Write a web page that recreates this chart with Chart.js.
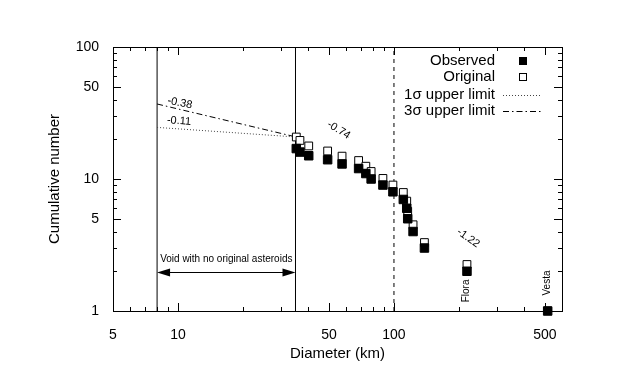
<!DOCTYPE html>
<html><head><meta charset="utf-8">
<script src="https://cdn.jsdelivr.net/npm/chart.js@4/dist/chart.umd.min.js"></script>
<style>html,body{margin:0;padding:0;background:#fff}</style>
</head><body>
<canvas id="c" width="634" height="379"></canvas>
<script>
// ---- data ----
const diameters      = [35.3, 36.7, 40.3, 49.3, 57.5, 68.6, 74.1, 78.4, 88.9, 98.9, 110.5, 114.6, 115.8, 122.6, 138.4, 217.8, 515];
const observedCounts = [17, 16, 15, 14, 13, 12, 11, 10, 9, 8, 7, 6, 5, 4, 3, 2, 1];
const originalCounts = [20.8, 19.6, 17.8, 16.3, 14.9, 13.8, 12.5, 11.4, 10.1, 9.0, 7.9, 6.8, 5.7, 4.5, 3.3, 2.25, 1];
const limitX         = [8.0, 35.3];
const sigma1Y        = [24.6, 20.8];
const sigma3Y        = [37.0, 20.8];
const voidBounds     = [8.0, 35];
const dashedAt       = 100;
const xTickValues    = [5, 10, 50, 100, 500];
const yTickValues    = [1, 5, 10, 50, 100];
const xMinorValues   = [6, 7, 8, 9, 20, 30, 40, 60, 70, 80, 90, 200, 300, 400, 600];
const yMinorValues   = [2, 3, 4, 6, 7, 8, 9, 20, 30, 40, 60, 70, 80, 90];
const seriesNames    = ['Observed', 'Original', '1\u03c3 upper limit', '3\u03c3 upper limit'];
const slopeLabels    = [
  {text: '-0.38', x: 10.2, y: 37.6, rot: 12},
  {text: '-0.11', x: 10.1, y: 27.5, rot: 4},
  {text: '-0.74', x: 55.5, y: 23.5, rot: 32},
  {text: '-1.22', x: 221,  y: 3.57, rot: 35}
];
const nameLabels     = [
  {text: 'Flora', x: 217, y: 1.42},
  {text: 'Vesta', x: 511, y: 1.63}
];
const voidText = 'Void with no original asteroids';
const voidArrowY = 1.97, voidTextY = 2.48;

const FONT = '"Liberation Sans", Arial, Helvetica, sans-serif';
const pts = (xs, ys) => xs.map((x, i) => ({x, y: ys[i]}));

const overlay = {
  id: 'overlay',
  beforeDatasetsDraw(chart) {
    const {ctx, chartArea: a, scales: {x, y}} = chart;
    ctx.save();
    ctx.strokeStyle = '#000';
    ctx.lineWidth = 1;
    ctx.strokeRect(Math.round(a.left) + 0.5, Math.round(a.top) + 0.5, Math.round(a.right - a.left), Math.round(a.bottom - a.top));
    const tick = (v, len, isX) => {
      if (isX) {
        const px = Math.round(x.getPixelForValue(v)) + 0.5;
        ctx.beginPath();
        ctx.moveTo(px, a.bottom); ctx.lineTo(px, a.bottom - len);
        ctx.moveTo(px, a.top); ctx.lineTo(px, a.top + len);
        ctx.stroke();
      } else {
        const py = Math.round(y.getPixelForValue(v)) + 0.5;
        ctx.beginPath();
        ctx.moveTo(a.left, py); ctx.lineTo(a.left + len, py);
        ctx.moveTo(a.right, py); ctx.lineTo(a.right - len, py);
        ctx.stroke();
      }
    };
    xTickValues.forEach(v => tick(v, 8, true));
    xMinorValues.forEach(v => tick(v, 4, true));
    yTickValues.forEach(v => tick(v, 8, false));
    yMinorValues.forEach(v => tick(v, 4, false));
    ctx.restore();
  },
  afterDatasetsDraw(chart) {
    const {ctx, scales: {x, y}} = chart;
    ctx.save();
    ctx.fillStyle = '#000';
    ctx.strokeStyle = '#000';
    // void arrow
    const x1 = x.getPixelForValue(voidBounds[0]), x2 = x.getPixelForValue(voidBounds[1]);
    const ay = Math.round(y.getPixelForValue(voidArrowY)) + 0.5;
    ctx.lineWidth = 1;
    ctx.beginPath(); ctx.moveTo(x1 + 10, ay); ctx.lineTo(x2 - 10, ay); ctx.stroke();
    ctx.beginPath(); ctx.moveTo(x1, ay); ctx.lineTo(x1 + 13, ay - 4); ctx.lineTo(x1 + 13, ay + 4); ctx.closePath(); ctx.fill();
    ctx.beginPath(); ctx.moveTo(x2, ay); ctx.lineTo(x2 - 13, ay - 4); ctx.lineTo(x2 - 13, ay + 4); ctx.closePath(); ctx.fill();
    ctx.font = '10px ' + FONT;
    ctx.textAlign = 'center'; ctx.textBaseline = 'middle';
    ctx.fillText(voidText, (x1 + x2) / 2, y.getPixelForValue(voidTextY));
    // slope labels
    ctx.font = '11px ' + FONT;
    slopeLabels.forEach(l => {
      ctx.save();
      ctx.translate(x.getPixelForValue(l.x), y.getPixelForValue(l.y));
      ctx.rotate(l.rot * Math.PI / 180);
      ctx.fillText(l.text, 0, 0);
      ctx.restore();
    });
    ctx.font = '10px ' + FONT;
    nameLabels.forEach(l => {
      ctx.save();
      ctx.translate(x.getPixelForValue(l.x), y.getPixelForValue(l.y));
      ctx.rotate(-Math.PI / 2);
      ctx.fillText(l.text, 0, 0);
      ctx.restore();
    });
    // legend
    const ds = chart.data.datasets;
    const textR = 495, mx = 523, l0 = 503, l1 = 542;
    const rows = [61, 77, 95, 111];
    ctx.font = '15px ' + FONT;
    ctx.textAlign = 'right';
    rows.forEach((ry, i) => ctx.fillText(seriesNames[i], textR, ry));
    ctx.fillRect(mx - 4, rows[0] - 4, 8, 8);
    ctx.fillStyle = '#fff'; ctx.fillRect(mx - 4, rows[1] - 4, 8, 8);
    ctx.strokeRect(mx - 3.5, rows[1] - 3.5, 7, 7);
    [2, 3].forEach((k, j) => {
      ctx.save();
      ctx.strokeStyle = ds[k].borderColor;
      ctx.lineWidth = ds[k].borderWidth;
      ctx.setLineDash(ds[k].borderDash);
      ctx.beginPath(); ctx.moveTo(l0, rows[2 + j] + 0.5); ctx.lineTo(l1, rows[2 + j] + 0.5); ctx.stroke();
      ctx.restore();
    });
    ctx.restore();
  }
};

const vline = (v, dash) => ({
  type: 'line', data: [{x: v, y: 1}, {x: v, y: 100}], borderColor: '#000', borderWidth: 1,
  borderDash: dash, pointRadius: 0, showLine: true, order: 5
});

new Chart(document.getElementById('c'), {
  type: 'scatter',
  data: {
    datasets: [
      {label: seriesNames[0], data: pts(diameters, observedCounts), pointStyle: 'rect', pointRadius: 6,
       backgroundColor: '#000', borderColor: '#000', borderWidth: 1, order: 1, clip: false},
      {label: seriesNames[1], data: pts(diameters, originalCounts), pointStyle: 'rect', pointRadius: 5.5,
       backgroundColor: '#fff', borderColor: '#000', borderWidth: 1, order: 2},
      {label: seriesNames[2], data: pts(limitX, sigma1Y), showLine: true, pointRadius: 0,
       borderColor: '#444', borderWidth: 1, borderDash: [1, 2], order: 3},
      {label: seriesNames[3], data: pts(limitX, sigma3Y), showLine: true, pointRadius: 0,
       borderColor: '#000', borderWidth: 1, borderDash: [6, 3, 1.5, 3], order: 3},
      vline(voidBounds[0], []),
      vline(voidBounds[1], []),
      vline(dashedAt, [4, 4])
    ]
  },
  options: {
    responsive: false, animation: false, devicePixelRatio: 1,
    layout: {padding: {top: 47, right: 72, bottom: 0, left: 0}},
    plugins: {legend: {display: false}, tooltip: {enabled: false}},
    scales: {
      x: {
        type: 'logarithmic', min: 5, max: 600,
        grid: {display: false}, border: {display: false},
        afterBuildTicks: s => { s.ticks = xTickValues.map(v => ({value: v})); },
        afterFit: s => { s.height = 68; },
        ticks: {callback: v => String(v), color: '#000', font: {family: FONT, size: 14}, padding: 8, maxRotation: 0, autoSkip: false},
        title: {display: true, text: 'Diameter (km)', color: '#000', font: {family: FONT, size: 15}, padding: {top: 0, bottom: 16}}
      },
      y: {
        type: 'logarithmic', min: 1, max: 100,
        grid: {display: false}, border: {display: false},
        afterBuildTicks: s => { s.ticks = yTickValues.map(v => ({value: v})); },
        afterFit: s => { s.width = 113; },
        ticks: {callback: v => String(v), color: '#000', font: {family: FONT, size: 14}, padding: 6, autoSkip: false},
        title: {display: true, text: 'Cumulative number', color: '#000', font: {family: FONT, size: 15}, padding: {top: 46, bottom: 0}}
      }
    }
  },
  plugins: [overlay]
});
</script>
</body></html>
